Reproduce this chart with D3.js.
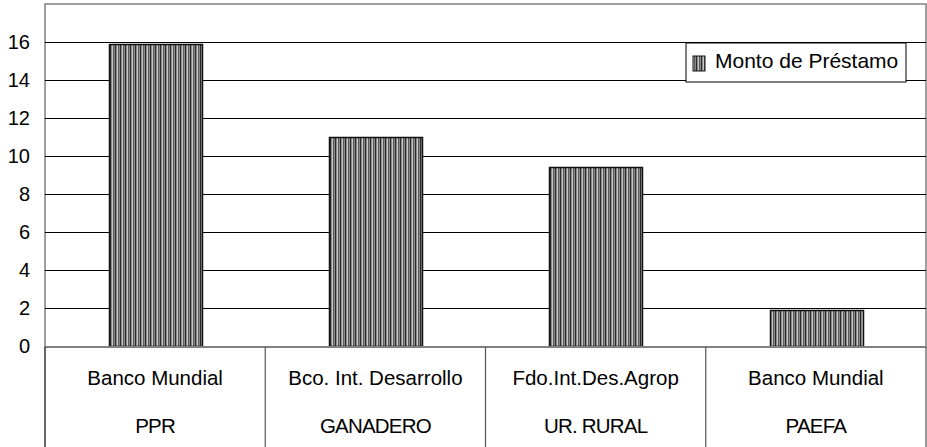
<!DOCTYPE html>
<html><head><meta charset="utf-8">
<script src="https://cdn.jsdelivr.net/npm/d3@7"></script>
<style>body{margin:0;background:#fff;}svg{display:block;font-family:Arial,"Liberation Sans",sans-serif;}</style>
</head><body>
<svg id="c" width="927" height="447"></svg>
<script>
const lenders = ["Banco Mundial", "Bco. Int. Desarrollo", "Fdo.Int.Des.Agrop", "Banco Mundial"];
const programs = ["PPR", "GANADERO", "UR. RURAL", "PAEFA"];
const loanAmounts = [15.9, 11, 9.4, 1.9];
const yTicks = [0, 2, 4, 6, 8, 10, 12, 14, 16];
const seriesName = "Monto de Préstamo";

const svg = d3.select("#c");
const L = 45, R = 926, T = 4, B = 347;
const ids = d3.range(lenders.length);
const x = d3.scaleBand().domain(ids).range([L, R]).paddingInner(0.58).paddingOuter(0.29);
const xc = d3.scaleBand().domain(ids).range([L, R]);
const y = d3.scaleLinear().domain([0, 18]).range([B - 1, T]);

const defs = svg.append("defs");
const pat = defs.append("pattern").attr("id", "stripes").attr("patternUnits", "userSpaceOnUse")
  .attr("width", 5).attr("height", 10);
pat.append("rect").attr("width", 5).attr("height", 10).attr("fill", "#8a8a8a");
pat.append("rect").attr("x", 0).attr("width", 1).attr("height", 10).attr("fill", "#2a2a2a");
pat.append("rect").attr("x", 2).attr("width", 1).attr("height", 10).attr("fill", "#c8c8c8");
pat.append("rect").attr("x", 3).attr("width", 1).attr("height", 10).attr("fill", "#5a5a5a");

// plot border
svg.append("rect").attr("x", L).attr("y", T).attr("width", R - L).attr("height", B - T)
  .attr("fill", "none").attr("stroke", "#808080").attr("stroke-width", 1.5);

// gridlines
svg.append("g").selectAll("line").data(yTicks.filter(d => d > 0)).join("line")
  .attr("x1", L).attr("x2", R).attr("y1", d => Math.round(y(d)) + 0.5).attr("y2", d => Math.round(y(d)) + 0.5)
  .attr("stroke", "#000").attr("stroke-width", 1);

// y axis labels
const ya = svg.append("g").attr("transform", `translate(${L},0)`)
  .call(d3.axisLeft(y).tickValues(yTicks).tickSize(0).tickPadding(15));
ya.select(".domain").remove();
ya.selectAll("text").attr("font-size", 20).attr("fill", "#000").attr("font-family", "Arial, 'Liberation Sans', sans-serif");

// bars
svg.append("g").selectAll("rect").data(ids).join("rect")
  .attr("x", d => Math.round(x(d)) + 0.5).attr("width", Math.round(x.bandwidth()))
  .attr("y", d => Math.round(y(loanAmounts[d])) + 0.5).attr("height", d => B - Math.round(y(loanAmounts[d])) - 1)
  .attr("fill", "url(#stripes)").attr("stroke", "#111").attr("stroke-width", 1.5);

// x axis line
svg.append("line").attr("x1", L).attr("x2", R).attr("y1", B).attr("y2", B)
  .attr("stroke", "#808080").attr("stroke-width", 2);

// category separators
svg.append("g").selectAll("line").data(d3.range(lenders.length + 1)).join("line")
  .attr("x1", d => d < lenders.length ? xc(d) : R).attr("x2", d => d < lenders.length ? xc(d) : R)
  .attr("y1", B).attr("y2", 447).attr("stroke", d => d === 0 ? "#000" : "#555").attr("stroke-width", 1.2);

// category labels
const cl = svg.append("g").selectAll("g").data(ids).join("g")
  .attr("transform", d => `translate(${xc(d) + xc.bandwidth() / 2},0)`);
cl.append("text").attr("y", 385).attr("text-anchor", "middle").attr("font-size", 20.5).text(d => lenders[d]);
cl.append("text").attr("y", 433).attr("text-anchor", "middle").attr("font-size", 20.5)
  .attr("letter-spacing", "-0.8").text(d => programs[d]);

// legend
const lg = svg.append("g").attr("transform", "translate(686,43)");
lg.append("rect").attr("width", 220).attr("height", 39).attr("fill", "#fff").attr("stroke", "#000").attr("stroke-width", 1);
lg.append("rect").attr("x", 7).attr("y", 13).attr("width", 12).attr("height", 15)
  .attr("fill", "url(#stripes)").attr("stroke", "#111");
lg.append("text").attr("x", 29).attr("y", 24.5).attr("font-size", 21).text(seriesName);
</script>
</body></html>
